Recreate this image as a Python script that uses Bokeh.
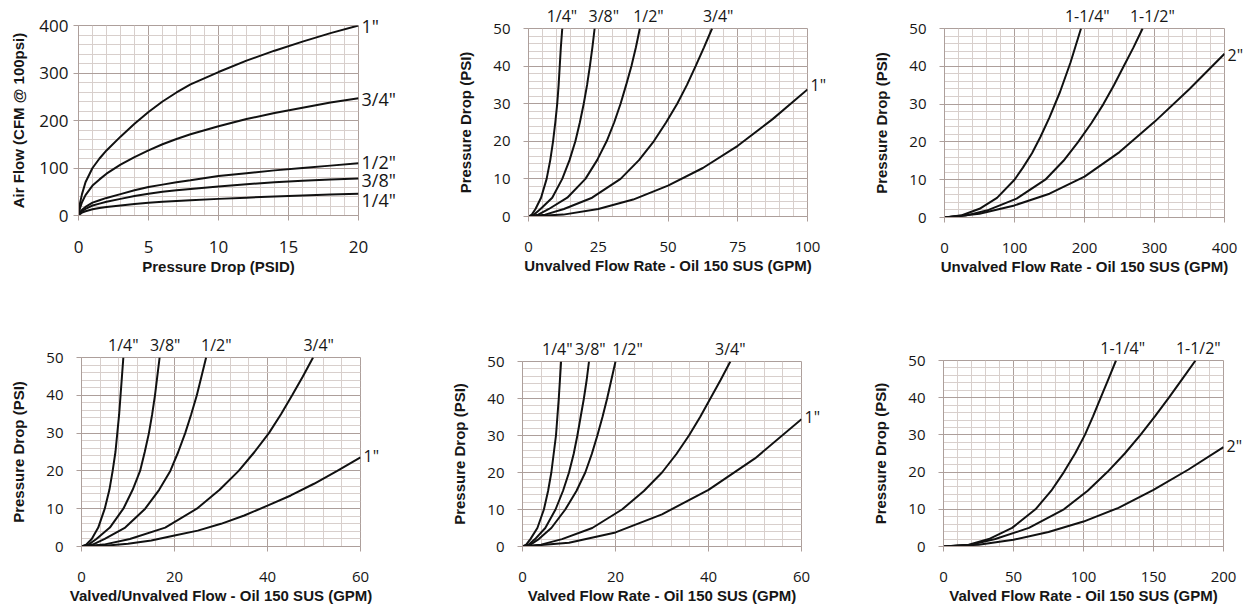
from bokeh.plotting import figure
from bokeh.models import Range1d, FixedTicker, LinearAxis
from bokeh.layouts import row, column
from bokeh.embed import file_html
from bokeh.resources import INLINE

# ---------------- data ----------------
# Chart 1: Air flow vs pressure drop
air_dp = [0, 0.1, 0.25, 0.5, 1, 1.5, 2, 3, 4, 5, 6, 7, 8, 10, 12, 14, 16, 18, 20]
air_1in = [0, 25, 45, 70, 100, 120, 137, 166, 193, 218, 240, 259, 276, 302, 326, 347, 366, 384, 400]
air_34 = [0, 15, 28, 43, 63, 76, 88, 107, 123, 137, 150, 161, 171, 188, 203, 216, 227, 238, 247]
air_12 = [0, 7, 12, 18, 27, 32, 37, 45, 53, 60, 65, 70, 74, 83, 89, 95, 100, 105, 110]
air_38 = [0, 5, 9, 14, 21, 25, 29, 35, 41, 46, 50, 53, 56, 61, 66, 70, 73, 76, 78]
air_14 = [0, 3, 6, 9, 13, 16, 18, 21, 24, 27, 29, 30.5, 32, 35, 37.5, 40, 42, 44, 46]
air_names = ['1"', '3/4"', '1/2"', '3/8"', '1/4"']
air_label_y = [400, 246, 112, 74, 32]

# Chart 2: Unvalved flow (small sizes)
c2_p = [0, 0.5, 2, 5, 10, 15, 20, 25, 30, 35, 40, 45, 50]
c2_q14 = [0, 1.2, 2.5, 4.5, 6.5, 7.8, 8.8, 9.6, 10.3, 10.8, 11.2, 11.6, 12.1]
c2_q38 = [0, 2, 4.3, 8.5, 12.1, 14.7, 16.8, 18.4, 19.8, 21, 22, 22.9, 23.7]
c2_q12 = [0, 3.5, 7.3, 13.9, 20.4, 24.6, 28, 30.7, 33, 35, 36.9, 38.5, 39.9]
c2_q34 = [0, 6, 12.7, 22.8, 33, 39.6, 44.9, 49.3, 53.3, 56.8, 59.9, 62.9, 65.8]
c2_q1 = [0, 12.5, 25, 37.5, 50, 62.5, 75, 87.5, 100]
c2_p1 = [0, 0.5, 2, 4.5, 8.2, 12.9, 18.8, 25.9, 33.8]
c2_top_names = ['1/4"', '3/8"', '1/2"', '3/4"']
c2_top_x = [12, 27, 43, 68]
c2_side_names = ['1"']
c2_side_y = [35]

# Chart 3: Unvalved flow (large sizes)
c3_q114 = [0, 25, 50, 75, 100, 112, 125, 137, 150, 165, 180, 195]
c3_p114 = [0, 0.6, 2.3, 5.2, 10, 13.2, 17, 21.3, 26.5, 33.2, 41, 50]
c3_p = [0, 0.5, 2, 5, 10, 15, 20, 25, 30, 35, 40, 45, 50]
c3_q112 = [0, 30, 63, 103, 144, 170, 191, 210, 227, 242, 256, 270, 283]
c3_q2 = [0, 50, 100, 150, 200, 250, 300, 350, 400]
c3_p2 = [0, 1, 3.2, 6.3, 10.8, 17.3, 25.3, 34, 43.3]
c3_top_names = ['1-1/4"', '1-1/2"']
c3_top_x = [204, 297]
c3_side_names = ['2"']
c3_side_y = [43]

# Chart 4: Valved/Unvalved flow
c4_p = [0, 0.5, 2, 5, 10, 15, 20, 25, 30, 35, 40, 45, 50]
c4_q14 = [0, 1, 2.2, 3.6, 5, 6, 6.7, 7.3, 7.7, 8.1, 8.4, 8.7, 9]
c4_q38 = [0, 1.5, 3.2, 6.1, 9, 11, 12.6, 13.6, 14.5, 15.2, 15.8, 16.3, 16.8]
c4_q12 = [0, 2.4, 5, 9.4, 13.7, 16.7, 19.1, 20.8, 22.3, 23.6, 24.8, 25.8, 26.8]
c4_q34 = [0, 4.8, 10.4, 18, 24.8, 29.7, 33.8, 37.2, 40.3, 42.9, 45.3, 47.6, 49.8]
c4_q1 = [0, 5, 10, 15, 20, 25, 30, 35, 40, 45, 50, 55, 60]
c4_p1 = [0, 0.2, 0.7, 1.6, 2.9, 4.2, 6, 8.2, 10.8, 13.5, 16.6, 20, 23.6]
c4_top_names = ['1/4"', '3/8"', '1/2"', '3/4"']
c4_top_x = [9, 18, 29, 51]
c4_side_names = ['1"']
c4_side_y = [24]

# Chart 5: Valved flow (small sizes)
c5_p = [0, 0.5, 2, 5, 10, 15, 20, 25, 30, 35, 40, 45, 50]
c5_q14 = [0, 0.8, 1.7, 3.2, 4.6, 5.5, 6.2, 6.7, 7.2, 7.5, 7.8, 8.05, 8.3]
c5_q38 = [0, 1.3, 2.7, 4.9, 7.1, 8.7, 10, 11, 11.8, 12.5, 13.2, 13.8, 14.3]
c5_q12 = [0, 1.7, 3.5, 6.2, 9.2, 11.6, 13.5, 14.9, 16.1, 17.2, 18.2, 19.1, 20]
c5_q34 = [0, 4, 8.5, 15, 21.4, 26.1, 30, 33.1, 35.8, 38.2, 40.4, 42.6, 44.7]
c5_q1 = [0, 10, 20, 30, 40, 50, 60]
c5_p1 = [0, 1, 3.8, 8.7, 15.3, 23.8, 34.4]
c5_top_names = ['1/4"', '3/8"', '1/2"', '3/4"']
c5_top_x = [7.5, 14.6, 22.6, 44.7]
c5_side_names = ['1"']
c5_side_y = [35]

# Chart 6: Valved flow (large sizes)
c6_p = [0, 0.5, 2, 5, 10, 15, 20, 25, 30, 35, 40, 45, 50]
c6_q114 = [0, 18, 32.4, 49, 65.7, 77, 86, 94, 101, 106.8, 112.3, 117.8, 123.2]
c6_q112 = [0, 20, 37, 61, 86, 103, 117, 129.5, 140.7, 151, 161, 170.5, 180]
c6_q2 = [0, 25, 50, 75, 100, 125, 150, 175, 200]
c6_p2 = [0, 0.5, 1.8, 3.9, 6.7, 10.4, 15.2, 20.7, 26.7]
c6_top_names = ['1-1/4"', '1-1/2"']
c6_top_x = [128, 182]
c6_side_names = ['2"']
c6_side_y = [27]

# ticks
c1_xticks = [0, 5, 10, 15, 20]
c1_xminor = list(range(0, 21, 1))
c1_yticks = [0, 100, 200, 300, 400]
c1_yminor = list(range(0, 401, 20))
psi_ticks = [0, 10, 20, 30, 40, 50]
psi_minor = list(range(0, 51, 2))
c2_xticks = [0, 25, 50, 75, 100]
c2_xminor = list(range(0, 101, 5))
c3_xticks = [0, 100, 200, 300, 400]
c3_xminor = list(range(0, 401, 20))
c45_xticks = [0, 20, 40, 60]
c45_xminor = list(range(0, 61, 4))
c6_xticks = [0, 50, 100, 150, 200]
c6_xminor = list(range(0, 201, 10))

# ---------------- styling ----------------
MAJOR = "#ad9f9b"
MINOR = "#d8cfcc"
INK = "#161616"
TICK_FONT = "Open Sans"
TITLE_FONT = "Liberation Sans"


def make_fig(width, height, bl, br, bt, bb, xr, yr, xt, xm, yt, ym, xlabel, ylabel,
             tick_size, ylab_standoff, ytitle_standoff):
    p = figure(width=width, height=height, x_range=Range1d(*xr), y_range=Range1d(*yr),
               output_backend="svg", toolbar_location=None,
               min_border_left=bl, min_border_right=br, min_border_top=bt, min_border_bottom=bb)
    p.background_fill_color = "white"
    p.border_fill_color = "white"
    p.outline_line_color = MAJOR
    p.outline_line_width = 1
    xtk = FixedTicker(ticks=xt, minor_ticks=xm)
    ytk = FixedTicker(ticks=yt, minor_ticks=ym)
    p.xaxis.ticker = xtk
    p.xgrid.ticker = xtk
    p.yaxis.ticker = ytk
    p.ygrid.ticker = ytk
    for g in (p.xgrid, p.ygrid):
        g.grid_line_color = MAJOR
        g.grid_line_width = 1
        g.minor_grid_line_color = MINOR
        g.minor_grid_line_width = 1
    for ax in (p.xaxis[0], p.yaxis[0]):
        ax.axis_line_color = MAJOR
        ax.major_tick_line_color = MAJOR
        ax.major_tick_out = 5
        ax.major_tick_in = 0
        ax.minor_tick_line_color = None
        ax.major_label_text_font = TICK_FONT
        ax.major_label_text_font_size = f"{tick_size}px"
        ax.major_label_text_color = INK
        ax.axis_label_text_font = TITLE_FONT
        ax.axis_label_text_font_style = "bold"
        ax.axis_label_text_font_size = "15px"
        ax.axis_label_text_color = INK
    p.xaxis.axis_label = xlabel
    p.yaxis.axis_label = ylabel
    p.xaxis.major_label_standoff = 20
    p.xaxis.axis_label_standoff = 2
    p.yaxis.major_label_standoff = ylab_standoff
    p.yaxis.axis_label_standoff = ytitle_standoff
    return p


def add_curve(p, x, y):
    p.line(x, y, line_color="#111111", line_width=2)


def label_axis(p, names, positions, side, size, standoff):
    ax = LinearAxis(ticker=FixedTicker(ticks=positions, minor_ticks=[]),
                    major_label_overrides=dict(zip(positions, names)))
    ax.axis_line_color = None
    ax.major_tick_line_color = None
    ax.minor_tick_line_color = None
    ax.major_tick_out = 0
    ax.major_tick_in = 0
    ax.major_label_standoff = standoff
    ax.major_label_text_font = TICK_FONT
    ax.major_label_text_font_size = f"{size}px"
    ax.major_label_text_color = INK
    p.add_layout(ax, side)


# Chart 1
f1 = make_fig(420, 300, 78, 62, 25, 85, (0, 20), (0, 400), c1_xticks, c1_xminor,
              c1_yticks, c1_yminor, "Pressure Drop (PSID)", "Air Flow (CFM @ 100psi)", 17, 5, 9)
for ys in (air_1in, air_34, air_12, air_38, air_14):
    add_curve(f1, air_dp, ys)
label_axis(f1, air_names, air_label_y, "right", 18, 3)

# Chart 2
f2 = make_fig(416, 300, 108, 29, 28, 84, (0, 100), (0, 50), c2_xticks, c2_xminor,
              psi_ticks, psi_minor, "Unvalved Flow Rate - Oil 150 SUS (GPM)", "Pressure Drop (PSI)", 15, 13, 16)
for qs in (c2_q14, c2_q38, c2_q12, c2_q34):
    add_curve(f2, qs, c2_p)
add_curve(f2, c2_q1, c2_p1)
label_axis(f2, c2_top_names, c2_top_x, "above", 16, 2)
label_axis(f2, c2_side_names, c2_side_y, "right", 16, 3)

# Chart 3
f3 = make_fig(410, 300, 108, 22, 28, 83, (0, 400), (0, 50), c3_xticks, c3_xminor,
              psi_ticks, psi_minor, "Unvalved Flow Rate - Oil 150 SUS (GPM)", "Pressure Drop (PSI)", 15, 13, 16)
add_curve(f3, c3_q114, c3_p114)
add_curve(f3, c3_q112, c3_p)
add_curve(f3, c3_q2, c3_p2)
label_axis(f3, c3_top_names, c3_top_x, "above", 16, 2)
label_axis(f3, c3_side_names, c3_side_y, "right", 16, 3)

# Chart 4
f4 = make_fig(420, 306, 81, 60, 57, 59, (0, 60), (0, 50), c45_xticks, c45_xminor,
              psi_ticks, psi_minor, "Valved/Unvalved Flow - Oil 150 SUS (GPM)", "Pressure Drop (PSI)", 15, 13, 16)
for qs in (c4_q14, c4_q38, c4_q12, c4_q34):
    add_curve(f4, qs, c4_p)
add_curve(f4, c4_q1, c4_p1)
label_axis(f4, c4_top_names, c4_top_x, "above", 16, 2)
label_axis(f4, c4_side_names, c4_side_y, "right", 16, 3)

# Chart 5
f5 = make_fig(416, 306, 102, 35, 61, 57, (0, 60), (0, 50), c45_xticks, c45_xminor,
              psi_ticks, psi_minor, "Valved Flow Rate - Oil 150 SUS (GPM)", "Pressure Drop (PSI)", 15, 13, 16)
for qs in (c5_q14, c5_q38, c5_q12, c5_q34):
    add_curve(f5, qs, c5_p)
add_curve(f5, c5_q1, c5_p1)
label_axis(f5, c5_top_names, c5_top_x, "above", 16, 2)
label_axis(f5, c5_side_names, c5_side_y, "right", 16, 3)

# Chart 6
f6 = make_fig(410, 306, 107, 23, 60, 57, (0, 200), (0, 50), c6_xticks, c6_xminor,
              psi_ticks, psi_minor, "Valved Flow Rate - Oil 150 SUS (GPM)", "Pressure Drop (PSI)", 15, 13, 16)
add_curve(f6, c6_q114, c6_p)
add_curve(f6, c6_q112, c6_p)
add_curve(f6, c6_q2, c6_p2)
label_axis(f6, c6_top_names, c6_top_x, "above", 16, 2)
label_axis(f6, c6_side_names, c6_side_y, "right", 16, 3)

layout = column(row(column(f1), column(f2), column(f3)),
                row(column(f4), column(f5), column(f6)))
open("out.html", "w").write(file_html(layout, INLINE))
